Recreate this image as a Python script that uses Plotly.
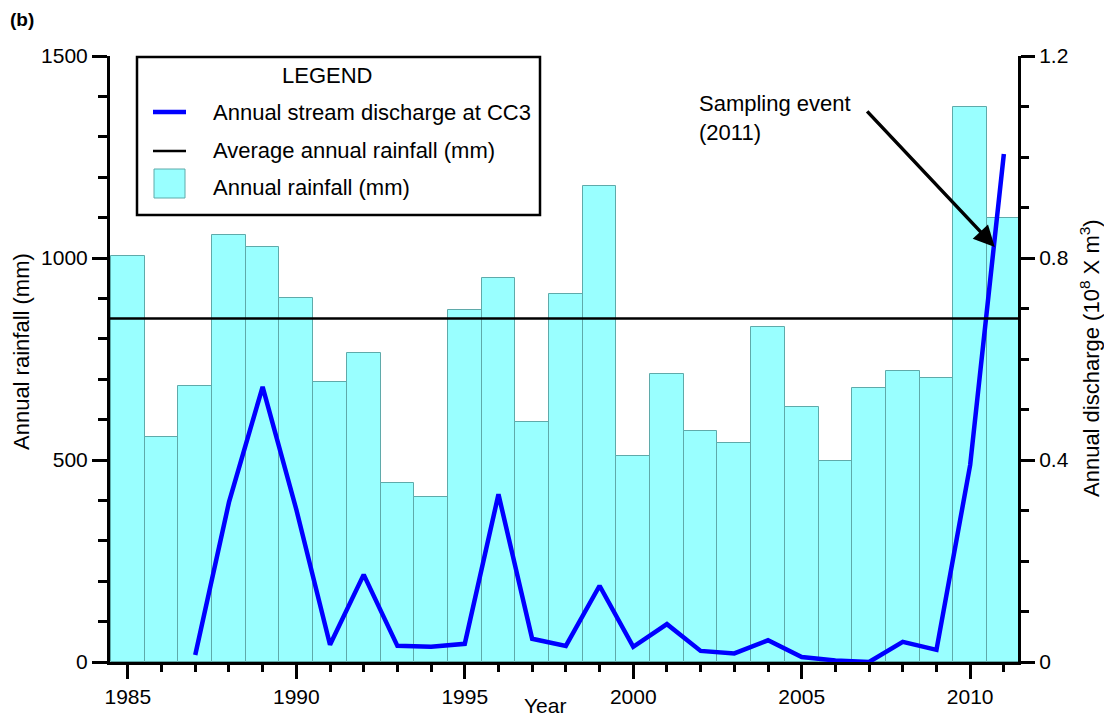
import plotly.graph_objects as go

# ---- data ----
years = list(range(1985, 2012))
annual_rainfall_mm = [1005, 557, 684, 1056, 1028, 900, 692, 766, 444, 409,
                      872, 950, 593, 910, 1179, 511, 714, 572, 543, 830,
                      632, 498, 677, 721, 702, 1373, 1098]
average_rainfall_mm = 850

discharge_years = list(range(1987, 2012))
annual_discharge = [0.014, 0.316, 0.545, 0.302, 0.034, 0.173, 0.032, 0.030,
                    0.036, 0.332, 0.046, 0.032, 0.151, 0.030, 0.075, 0.022,
                    0.017, 0.043, 0.010, 0.003, 0.0, 0.040, 0.024, 0.39, 1.006]

rain_ticks = [0, 500, 1000, 1500]
discharge_ticks = [0, 0.4, 0.8, 1.2]
discharge_ticktext = ["0", "0.4", "0.8", "1.2"]

FONT = "Liberation Sans, Arial, sans-serif"
BAR_FILL = "#99FFFF"
BAR_EDGE = "#5FAAAA"
BLUE = "#0000FF"

# plot area in pixels
L, R, T, B = 110, 1018, 56, 662
W, H = 1104, 720


def px(X):
    return (X - L) / (R - L)


def py(Y):
    return (B - Y) / (B - T)


fig = go.Figure()

fig.add_trace(go.Bar(
    x=years, y=annual_rainfall_mm, width=1.0,
    marker=dict(color=BAR_FILL, line=dict(color=BAR_EDGE, width=1)),
    name="Annual rainfall (mm)", showlegend=False, yaxis="y",
))

fig.add_trace(go.Scatter(
    x=discharge_years, y=annual_discharge, mode="lines",
    line=dict(color=BLUE, width=4.5),
    name="Annual stream discharge at CC3", showlegend=False, yaxis="y2",
))

shapes = []
# average rainfall line
shapes.append(dict(type="line", xref="paper", yref="y", x0=0, x1=1,
                   y0=average_rainfall_mm, y1=average_rainfall_mm,
                   line=dict(color="black", width=2.5), layer="above"))

# legend box
shapes.append(dict(type="rect", xref="paper", yref="paper",
                   x0=px(137), x1=px(540), y0=py(215), y1=py(57),
                   line=dict(color="black", width=2.5), fillcolor="white",
                   layer="above"))
shapes.append(dict(type="line", xref="paper", yref="paper",
                   x0=px(153), x1=px(186), y0=py(112), y1=py(112),
                   line=dict(color=BLUE, width=4.5), layer="above"))
shapes.append(dict(type="line", xref="paper", yref="paper",
                   x0=px(153), x1=px(186), y0=py(151), y1=py(151),
                   line=dict(color="black", width=2.5), layer="above"))
shapes.append(dict(type="rect", xref="paper", yref="paper",
                   x0=px(154), x1=px(185), y0=py(198), y1=py(169),
                   line=dict(color=BAR_EDGE, width=1), fillcolor=BAR_FILL,
                   layer="above"))

annotations = []


def text(X, Y, s, size=20, xanchor="left", yanchor="middle", angle=0,
         bold=False, align="left"):
    annotations.append(dict(
        xref="paper", yref="paper", x=px(X), y=py(Y), text=s,
        showarrow=False, xanchor=xanchor, yanchor=yanchor, align=align,
        textangle=angle,
        font=dict(family=FONT, size=size, color="black",
                  weight="bold" if bold else "normal")))


text(327, 76, "LEGEND", size=22, xanchor="center")
text(211, 112, "Annual stream discharge at CC3", size=22)
text(211, 151, "Average annual rainfall (mm)", size=22)
text(211, 187, "Annual rainfall (mm)", size=22)

text(8, 19, "(b)", size=19, bold=True)
text(21, 352, "Annual rainfall (mm)", size=22, xanchor="center", angle=-90)
text(1090, 358, "Annual discharge (10<sup>8</sup> X m<sup>3</sup>)", size=22,
     xanchor="center", angle=-90)
text(545, 705, "Year", size=21, xanchor="center")
text(697, 89, "Sampling event<br>(2011)", size=22, yanchor="top")

# arrow to the 2011 sampling event on the discharge curve
annotations.append(dict(
    xref="x", yref="y2", x=2010.73, y=0.822, ax=-129, ay=-137,
    showarrow=True, arrowhead=2, arrowsize=1.2, arrowwidth=3.5,
    arrowcolor="black", text=""))

axis_common = dict(showline=True, linecolor="black", linewidth=3,
                   ticks="outside", tickcolor="black", tickwidth=3,
                   showgrid=False, zeroline=False,
                   tickfont=dict(family=FONT, size=21, color="black"))

fig.update_layout(
    width=W, height=H,
    margin=dict(l=L, r=W - R, t=T, b=H - B, pad=0),
    plot_bgcolor="white", paper_bgcolor="white",
    bargap=0,
    shapes=shapes, annotations=annotations,
    xaxis=dict(range=[1984.47, 2011.42], tick0=1985, dtick=5, ticklen=14,
               minor=dict(dtick=1, ticklen=7, tickwidth=3, ticks="outside",
                          tickcolor="black"),
               **axis_common),
    yaxis=dict(range=[0, 1500], tickvals=rain_ticks, ticklen=15,
               minor=dict(dtick=100, ticklen=9, tickwidth=3, ticks="outside",
                          tickcolor="black"),
               **axis_common),
    yaxis2=dict(range=[0, 1.2], overlaying="y", side="right",
                tickvals=discharge_ticks, ticktext=discharge_ticktext,
                ticklen=14,
                minor=dict(dtick=0.1, ticklen=8, tickwidth=3, ticks="outside",
                           tickcolor="black"),
                **axis_common),
)

fig.write_html("out.html")
